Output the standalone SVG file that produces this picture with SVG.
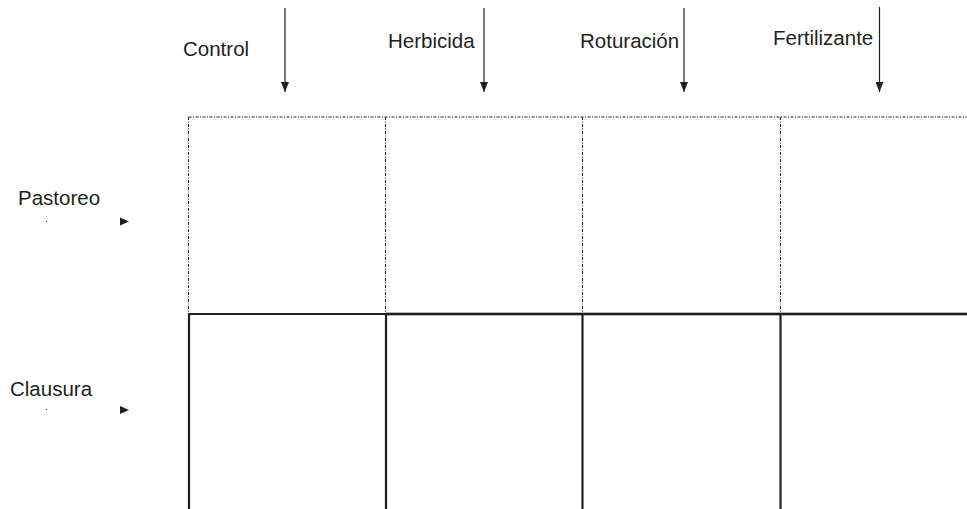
<svg xmlns="http://www.w3.org/2000/svg" width="967" height="509" viewBox="0 0 967 509">
  <defs>
    <marker id="ah" markerWidth="10" markerHeight="8" refX="10" refY="4" orient="auto" markerUnits="userSpaceOnUse" viewBox="0 0 10 8">
      <path d="M0,0 L10,4 L0,8 Z" fill="#231f20"/>
    </marker>
  </defs>
  <style>
    .lbl { font-family: "Liberation Sans", Arial, sans-serif; font-size: 20.5px; fill: #231f20; }
    .dot { stroke: #231f20; stroke-width: 1; fill: none; stroke-dasharray: 3 1.5 1 1.5; }
    .solid { stroke: #231f20; stroke-width: 2.2; fill: none; }
    .arr { stroke: #231f20; stroke-width: 1.2; fill: none; }
    .tri { fill: #231f20; }
  </style>
  <rect width="967" height="509" fill="#ffffff"/>

  <g id="grid">
    <line class="dot" x1="188.5" y1="117" x2="967" y2="117"/>
    <line class="dot" x1="188.5" y1="117" x2="188.5" y2="313"/>
    <line class="dot" x1="385.5" y1="117" x2="385.5" y2="313"/>
    <line class="dot" x1="582.5" y1="117" x2="582.5" y2="313"/>
    <line class="dot" x1="780.5" y1="117" x2="780.5" y2="313"/>
    <line stroke="#9a9a9a" stroke-width="3.5" x1="386" y1="314" x2="967" y2="314"/>
    <line class="solid" x1="188" y1="314" x2="967" y2="314"/>
    <line class="solid" x1="189" y1="313" x2="189" y2="509"/>
    <line class="solid" x1="386" y1="313" x2="386" y2="509"/>
    <line class="solid" x1="582.5" y1="313" x2="582.5" y2="509"/>
    <line class="solid" x1="780.5" y1="313" x2="780.5" y2="509"/>
  </g>

  <g id="control"><text class="lbl" x="183" y="56">Control</text></g>
  <g id="herbicida"><text class="lbl" x="388" y="48">Herbicida</text></g>
  <g id="roturacion"><text class="lbl" x="580" y="48">Roturación</text></g>
  <g id="fertilizante"><text class="lbl" x="773" y="45">Fertilizante</text></g>

  <g id="pastoreo">
    <text class="lbl" x="18" y="205">Pastoreo</text>
    <rect x="46" y="221" width="1" height="1" fill="#231f20"/>
    <path class="tri" d="M120,217.5 L129,221.5 L120,225.5 Z"/>
  </g>
  <g id="clausura">
    <text class="lbl" x="10" y="396">Clausura</text>
    <rect x="46" y="409" width="1" height="1" fill="#231f20"/>
    <path class="tri" d="M120,406 L129,410 L120,414 Z"/>
  </g>

  <g id="connectors">
    <line class="arr" x1="285" y1="8" x2="285" y2="92" marker-end="url(#ah)"/>
    <line class="arr" x1="484" y1="8" x2="484" y2="92" marker-end="url(#ah)"/>
    <line class="arr" x1="684" y1="8" x2="684" y2="92" marker-end="url(#ah)"/>
    <line class="arr" x1="879.5" y1="7" x2="879.5" y2="92" marker-end="url(#ah)"/>
  </g>
</svg>
